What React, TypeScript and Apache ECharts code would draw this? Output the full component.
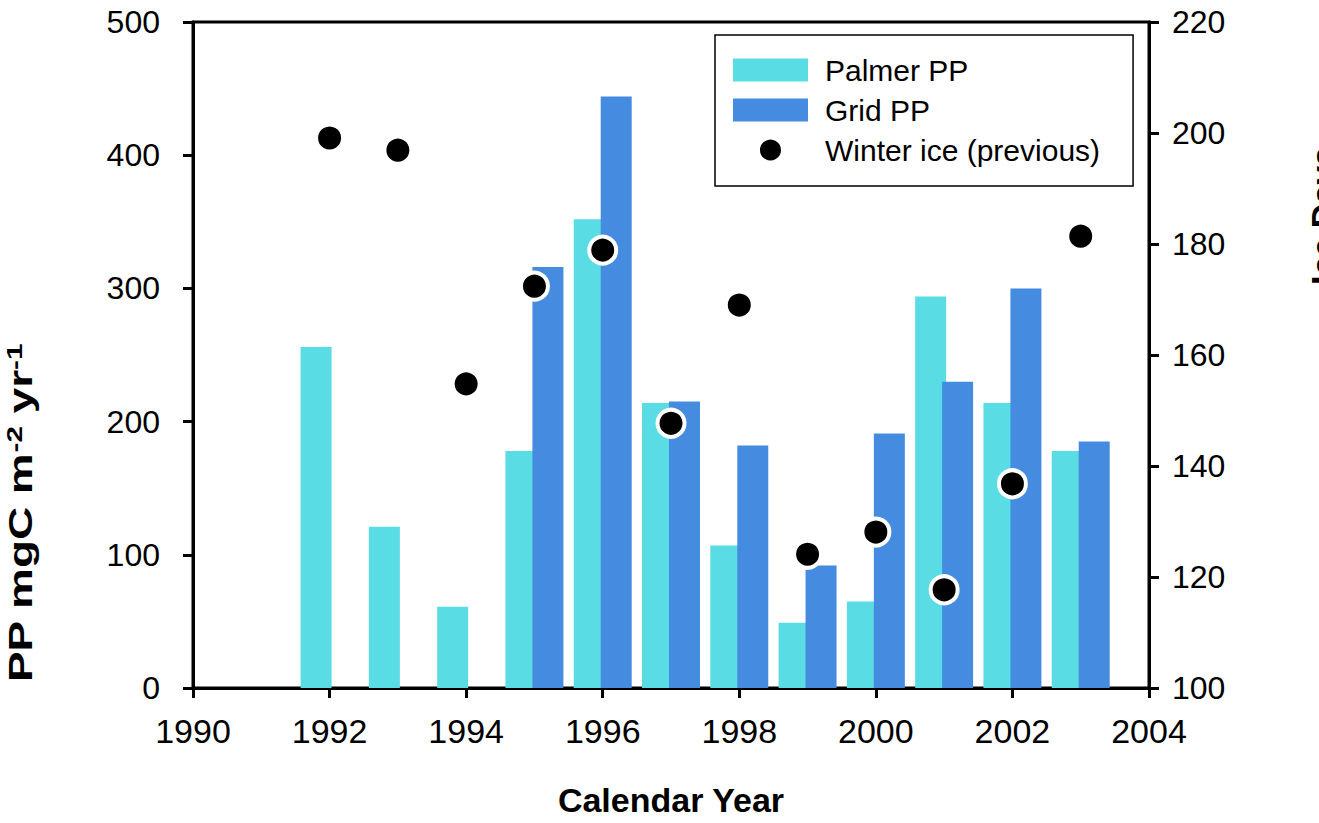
import { useEffect, useRef } from "react";
import * as echarts from "echarts";

// Calendar years of the PP seasons
const years = [1992, 1993, 1994, 1995, 1996, 1997, 1998, 1999, 2000, 2001, 2002, 2003];
// Primary production (mgC m-2 yr-1)
const palmerPP = [256, 121, 61, 178, 352, 214, 107, 49, 65, 294, 214, 178];
const gridPP: (number | null)[] = [null, null, null, 316, 444, 215, 182, 92, 191, 230, 300, 185];
// Sea-ice days of the preceding winter
const winterIce = [199.1, 196.9, 154.8, 172.4, 178.9, 147.7, 169.0, 124.1, 128.1, 117.7, 136.8, 181.4];

const seriesNames = ["Palmer PP", "Grid PP", "Winter ice (previous)"];
const FONT = "'Liberation Sans', Arial, Helvetica, sans-serif";

export default function App() {
  const ref = useRef<HTMLDivElement>(null);

  useEffect(() => {
    if (!ref.current) return;
    const chart = echarts.init(ref.current, null, { renderer: "svg" });

    const axisLineStyle = { color: "#000", width: 3 };
    const tick = { show: true, inside: false, length: 10, lineStyle: { color: "#000", width: 3 } };

    chart.setOption({
      animation: false,
      backgroundColor: "#fff",
      textStyle: { fontFamily: FONT, color: "#000" },
      grid: {
        left: 193,
        right: 170,
        top: 22,
        bottom: 135,
        show: true,
        borderColor: "#000",
        borderWidth: 3,
        containLabel: false,
      },
      legend: {
        orient: "vertical",
        left: 715,
        top: 35,
        itemWidth: 75,
        itemHeight: 23,
        itemGap: 10,
        padding: [20, 33, 21, 18],
        borderColor: "#000",
        borderWidth: 1.5,
        backgroundColor: "#fff",
        textStyle: { fontSize: 30, color: "#000", fontFamily: FONT, padding: [0, 0, 0, 12] },
        data: [
          { name: seriesNames[0], icon: "rect" },
          { name: seriesNames[1], icon: "rect" },
          { name: seriesNames[2], icon: "circle" },
        ],
      },
      xAxis: {
        type: "value",
        min: 1990,
        max: 2004,
        interval: 2,
        axisLine: { show: true, lineStyle: axisLineStyle },
        axisTick: tick,
        splitLine: { show: false },
        axisLabel: {
          fontSize: 34,
          color: "#000",
          margin: 26,
          fontFamily: FONT,
          formatter: (v: number) => String(v),
        },
        name: "Calendar Year",
        nameLocation: "middle",
        nameGap: 95,
        nameTextStyle: { fontSize: 34, fontWeight: "bold", color: "#000", fontFamily: FONT },
      },
      yAxis: [
        {
          type: "value",
          min: 0,
          max: 500,
          interval: 100,
          position: "left",
          axisLine: { show: true, lineStyle: axisLineStyle },
          axisTick: tick,
          splitLine: { show: false },
          axisLabel: { fontSize: 32, color: "#000", margin: 33, fontFamily: FONT },
        },
        {
          type: "value",
          min: 100,
          max: 220,
          interval: 20,
          position: "right",
          axisLine: { show: true, lineStyle: axisLineStyle },
          axisTick: tick,
          splitLine: { show: false },
          axisLabel: { fontSize: 32, color: "#000", margin: 23, fontFamily: FONT },
        },
      ],
      series: [
        {
          name: seriesNames[0],
          type: "bar",
          xAxisIndex: 0,
          yAxisIndex: 0,
          barWidth: 31,
          itemStyle: { color: "#59DCE3" },
          data: years.map((y, i) => [y, palmerPP[i]]),
          z: 2,
        },
        {
          name: seriesNames[1],
          type: "bar",
          xAxisIndex: 0,
          yAxisIndex: 0,
          barWidth: 31,
          barGap: "-13%",
          itemStyle: { color: "#458CE0" },
          data: years.map((y, i) => [y, gridPP[i] == null ? "-" : gridPP[i]]),
          z: 2,
        },
        {
          name: seriesNames[2],
          type: "scatter",
          xAxisIndex: 0,
          yAxisIndex: 1,
          symbol: "circle",
          symbolSize: 27,
          itemStyle: { color: "#000", borderColor: "#fff", borderWidth: 4, opacity: 1 },
          data: years.map((y, i) => [y, winterIce[i]]),
          z: 5,
        },
      ],
      graphic: [
        {
          type: "text",
          x: 37,
          y: 682,
          rotation: Math.PI / 2,
          scaleX: 1.35,
          style: {
            text: "PP mgC m{sup|-2} yr{sup|-1}",
            fontSize: 34,
            fontWeight: "bold",
            fontFamily: FONT,
            fill: "#000",
            align: "left",
            verticalAlign: "bottom",
            rich: {
              sup: { fontSize: 22, fontWeight: "bold", fontFamily: FONT, verticalAlign: "top", fill: "#000" },
            },
          },
        },
        {
          type: "text",
          x: 1306,
          y: 285,
          rotation: Math.PI / 2,
          style: {
            text: "Ice Days",
            fontSize: 34,
            fontWeight: "bold",
            fontFamily: FONT,
            fill: "#000",
            align: "left",
            verticalAlign: "top",
          },
        },
      ],
    });

    return () => chart.dispose();
  }, []);

  return (
    <div
      ref={ref}
      style={{ position: "fixed", left: 0, top: 0, width: 1319, height: 823, background: "#fff" }}
    />
  );
}
